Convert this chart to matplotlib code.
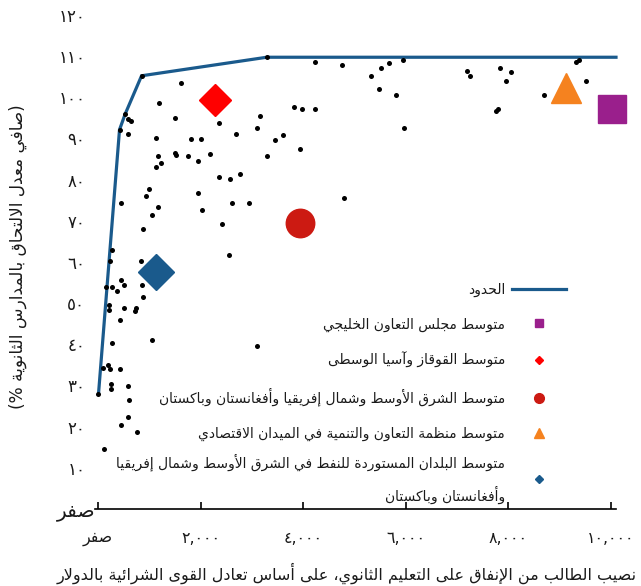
import matplotlib
matplotlib.use("Agg")
import matplotlib.pyplot as plt
from matplotlib.lines import Line2D

# ---------------------------------------------------------------------------
# Data
# ---------------------------------------------------------------------------
# Per-student spending on secondary education (PPP dollars) and net secondary
# enrolment (%) for individual countries
country_spend = [
    850, 1610, 1190, 530, 590, 640, 1510, 2350, 3160, 3100,
    420, 590, 1130, 1810, 2010, 2690, 1510, 1530, 1170, 1750,
    1950, 2180, 1220, 1140, 2350, 2570, 2770, 1000, 930, 1950,
    440, 1180, 1050, 2020, 2620, 2940, 2420, 870, 3290, 4240,
    4750, 5320, 5510, 5680, 5940, 5480, 5810, 7200, 7250, 7840,
    8060, 7960, 8700, 7770, 7800, 9320, 9380, 9510, 3830, 3970,
    4240, 3600, 3450, 3290, 3940, 5970, 4790, 2550, 3100, 270,
    240, 830, 440, 510, 150, 280, 380, 860, 880, 220,
    220, 510, 750, 730, 420, 1050, 270, 100, 190, 230,
    420, 250, 260, 580, 10, 610, 590, 440, 760, 120,
]
country_enrol = [
    105.2, 103.4, 98.5, 95.9, 94.7, 94.1, 95.0, 93.8, 95.4, 92.5,
    92.1, 91.0, 90.2, 89.9, 89.9, 91.0, 86.4, 85.9, 85.6, 85.6,
    84.6, 86.2, 84.0, 83.1, 80.7, 80.1, 81.3, 77.6, 76.0, 76.7,
    74.3, 73.4, 71.5, 72.7, 74.3, 74.3, 69.3, 68.1, 109.7, 108.5,
    107.8, 105.1, 107.2, 108.4, 109.1, 102.0, 100.5, 106.4, 105.1, 107.0,
    106.1, 104.0, 100.5, 96.7, 97.1, 108.5, 109.1, 104.0, 97.5, 97.2,
    97.2, 90.7, 89.5, 85.6, 87.4, 92.6, 75.5, 61.7, 39.6, 62.9,
    60.2, 60.2, 55.6, 54.4, 53.8, 53.8, 52.9, 54.4, 51.4, 49.6,
    48.3, 48.8, 48.7, 48.2, 45.8, 41.0, 40.4, 34.2, 34.9, 33.9,
    33.9, 30.3, 29.1, 29.9, 27.9, 26.5, 22.3, 20.5, 18.6, 14.6,
]

# Efficiency frontier
frontier_spend = [10, 420, 530, 850, 3290, 10100]
frontier_enrol = [27.9, 92.1, 95.9, 105.2, 109.7, 109.7]

# Regional averages: (spending, enrolment)
gcc_avg = (10020, 97.2)
cca_avg = (2280, 99.3)
menap_avg = (3940, 69.4)
oecd_avg = (9130, 102.2)
menap_oil_imp_avg = (1140, 57.6)

ZERO_WORD = "صفر"
x_ticks = [0, 2000, 4000, 6000, 8000, 10000]
x_tick_labels = [ZERO_WORD, "٢,٠٠٠", "٤,٠٠٠", "٦,٠٠٠", "٨,٠٠٠", "١٠,٠٠٠"]
y_ticks = [0, 10, 20, 30, 40, 50, 60, 70, 80, 90, 100, 110, 120]
y_tick_labels = [ZERO_WORD, "١٠", "٢٠", "٣٠", "٤٠", "٥٠", "٦٠", "٧٠", "٨٠", "٩٠",
                 "١٠٠", "١١٠", "١٢٠"]

x_title = "نصيب الطالب من الإنفاق على التعليم الثانوي، على أساس تعادل القوى الشرائية بالدولار"
y_title = "(صافي معدل الالتحاق بالمدارس الثانوية %)"

lbl_frontier = "الحدود"
lbl_gcc = "متوسط مجلس التعاون الخليجي"
lbl_cca = "متوسط القوقاز وآسيا الوسطى"
lbl_menap = "متوسط الشرق الأوسط وشمال إفريقيا وأفغانستان وباكستان"
lbl_oecd = "متوسط منظمة التعاون والتنمية في الميدان الاقتصادي"
lbl_oil_imp = "متوسط البلدان المستوردة للنفط في الشرق الأوسط وشمال إفريقيا\nوأفغانستان وباكستان"

# ---------------------------------------------------------------------------
# Minimal Arabic shaping (contextual presentation forms + RTL ordering)
# ---------------------------------------------------------------------------
_FORMS = {
    "ء": (0xFE80, 0), "آ": (0xFE81, 2), "أ": (0xFE83, 2), "ؤ": (0xFE85, 2),
    "إ": (0xFE87, 2), "ئ": (0xFE89, 4), "ا": (0xFE8D, 2), "ب": (0xFE8F, 4),
    "ة": (0xFE93, 2), "ت": (0xFE95, 4), "ث": (0xFE99, 4), "ج": (0xFE9D, 4),
    "ح": (0xFEA1, 4), "خ": (0xFEA5, 4), "د": (0xFEA9, 2), "ذ": (0xFEAB, 2),
    "ر": (0xFEAD, 2), "ز": (0xFEAF, 2), "س": (0xFEB1, 4), "ش": (0xFEB5, 4),
    "ص": (0xFEB9, 4), "ض": (0xFEBD, 4), "ط": (0xFEC1, 4), "ظ": (0xFEC5, 4),
    "ع": (0xFEC9, 4), "غ": (0xFECD, 4), "ف": (0xFED1, 4), "ق": (0xFED5, 4),
    "ك": (0xFED9, 4), "ل": (0xFEDD, 4), "م": (0xFEE1, 4), "ن": (0xFEE5, 4),
    "ه": (0xFEE9, 4), "و": (0xFEED, 2), "ى": (0xFEEF, 2), "ي": (0xFEF1, 4),
}
_LAM_ALEF = {"آ": 0xFEF5, "أ": 0xFEF7, "إ": 0xFEF9, "ا": 0xFEFB}
_MIRROR = {"(": ")", ")": "("}


def _joins(ch):
    return ch in _FORMS and _FORMS[ch][1] != 0


def _shape_line(text):
    out = []
    n = len(text)
    i = 0
    prev_connects = False
    while i < n:
        ch = text[i]
        if ch not in _FORMS:
            out.append(ch)
            prev_connects = False
            i += 1
            continue
        base, kind = _FORMS[ch]
        if ch == "ل" and i + 1 < n and text[i + 1] in _LAM_ALEF:
            out.append(chr(_LAM_ALEF[text[i + 1]] + (1 if prev_connects else 0)))
            prev_connects = False
            i += 2
            continue
        next_joins = i + 1 < n and _joins(text[i + 1])
        if kind == 4:
            if prev_connects and next_joins:
                form = 3
            elif prev_connects:
                form = 1
            elif next_joins:
                form = 2
            else:
                form = 0
        elif kind == 2:
            form = 1 if prev_connects else 0
        else:
            form = 0
        out.append(chr(base + form))
        prev_connects = kind == 4
        i += 1
    return "".join(out)


def ar(text):
    """Shape Arabic words and lay them out right-to-left, line by line."""
    lines = []
    for line in text.split("\n"):
        shaped = _shape_line(line)
        lines.append("".join(_MIRROR.get(c, c) for c in reversed(shaped)))
    return "\n".join(lines)


def tick_text(label):
    # numerals keep their left-to-right order; only words need shaping
    return ar(label) if any(c in _FORMS for c in label) else label


# ---------------------------------------------------------------------------
# Figure
# ---------------------------------------------------------------------------
plt.rcParams["font.family"] = ["DejaVu Sans"]
TXT = "#1a1a1a"
BLUE = "#1a5a8c"
PURPLE = "#9a1f8c"
RED = "#ff0000"
DARKRED = "#cc1a12"
ORANGE = "#f5821f"

fig = plt.figure(figsize=(6.41, 5.86), dpi=100)
ax = fig.add_axes([95 / 641, 77 / 586, 521 / 641, 509 / 586])
ax.set_xlim(-58, 10100)
ax.set_ylim(0, 123.6)

for side in ("top", "right", "left"):
    ax.spines[side].set_visible(False)
ax.spines["bottom"].set_linewidth(1.2)
ax.spines["bottom"].set_color("black")

# Frontier line and country points
ax.plot(frontier_spend, frontier_enrol, color=BLUE, lw=2.3, zorder=2,
        clip_on=False, solid_joinstyle="miter")
ax.scatter(country_spend, country_enrol, s=13, color="black", zorder=3,
           linewidths=0)

# Regional averages
ax.plot([gcc_avg[0]], [gcc_avg[1]], "s", color=PURPLE, ms=19.5, zorder=4,
        clip_on=False)
ax.plot([cca_avg[0]], [cca_avg[1]], "D", color=RED, ms=15.8, zorder=4)
ax.plot([menap_avg[0]], [menap_avg[1]], "o", color=DARKRED, ms=20.5, zorder=4)
ax.plot([oecd_avg[0]], [oecd_avg[1]], "^", color=ORANGE, ms=22, zorder=4)
ax.plot([menap_oil_imp_avg[0]], [menap_oil_imp_avg[1]], "D", color=BLUE,
        ms=18.3, zorder=4)

# Axes ticks
ax.set_xticks(x_ticks)
ax.set_xticklabels([tick_text(t) for t in x_tick_labels], fontsize=11.3,
                   color=TXT)
ax.tick_params(axis="x", direction="in", length=5, width=1.2, pad=16)

ax.set_yticks(y_ticks)
ax.set_yticklabels([tick_text(t) for t in y_tick_labels], fontsize=12,
                   color=TXT)
ax.tick_params(axis="y", length=0, pad=7)
zero_tick = ax.yaxis.get_major_ticks()[0]
zero_tick.set_pad(0)
zero_tick.label1.set_fontsize(14.5)

# Axis titles
fig.text(637 / 641, 1 - 573 / 586, ar(x_title), ha="right", va="center",
         fontsize=11.5, color=TXT)
fig.text(18 / 641, 1 - 257 / 586, ar(y_title), ha="center", va="center",
         rotation=90, fontsize=12.2, color=TXT)

# Legend (markers on the right, labels right-aligned)
legend_kw = dict(loc="upper right", bbox_transform=fig.transFigure,
                 frameon=False, markerfirst=False, fontsize=10,
                 handlelength=3.9, handletextpad=0.5, labelspacing=1.45,
                 borderpad=0, borderaxespad=0)

handles_main = [
    Line2D([], [], color=BLUE, lw=2.3),
    Line2D([], [], ls="none", marker="s", color=PURPLE, ms=6),
    Line2D([], [], ls="none", marker="D", color=RED, ms=3.8),
    Line2D([], [], ls="none", marker="o", color=DARKRED, ms=7),
    Line2D([], [], ls="none", marker="^", color=ORANGE, ms=6.5),
]
labels_main = [ar(t) for t in (lbl_frontier, lbl_gcc, lbl_cca, lbl_menap,
                               lbl_oecd)]
leg_main = fig.legend(handles_main, labels_main,
                      bbox_to_anchor=(566 / 641, 1 - 283 / 586), **legend_kw)

# the two-line entry sits a little closer to the rows above it
handles_oil = [Line2D([], [], ls="none", marker="D", color=BLUE, ms=3.8)]
leg_oil = fig.legend(handles_oil, [ar(lbl_oil_imp)],
                     bbox_to_anchor=(566 / 641, 1 - 453 / 586), **legend_kw)

for leg in (leg_main, leg_oil):
    for t in leg.get_texts():
        t.set_color(TXT)
        t.set_multialignment("right")
leg_oil.get_texts()[0].set_linespacing(2.0)

fig.savefig("out.png", dpi=100)
